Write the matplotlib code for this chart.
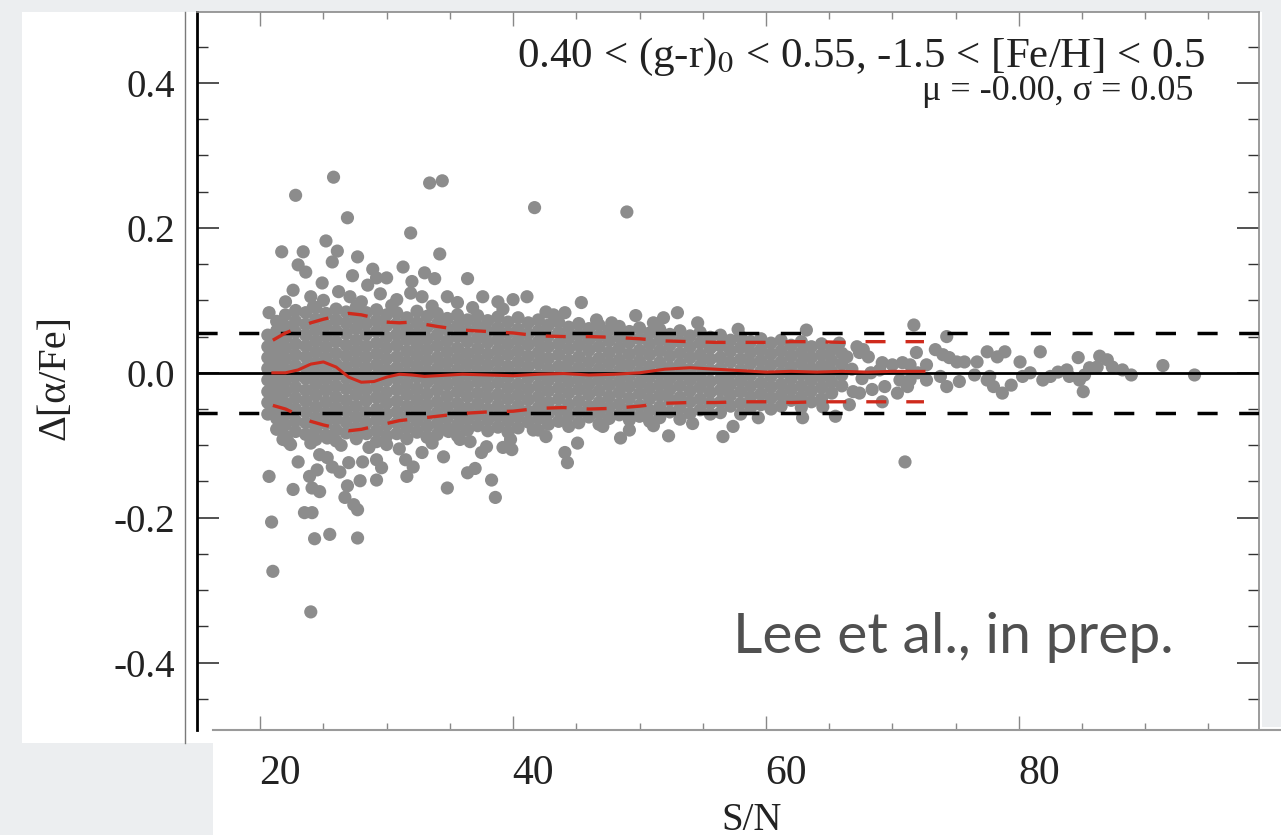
import matplotlib
matplotlib.use("Agg")
import matplotlib.pyplot as plt
import matplotlib.transforms as mtransforms
from matplotlib.patches import Rectangle
from matplotlib.lines import Line2D

# ---- datos ----
# nucleo denso de la nube: S/N -> lista de Delta[alpha/Fe]
core_low = {
    20.6: [0.052, 0.036, 0.021, 0.006, -0.010, -0.026, -0.041, -0.057],
    21.3: [0.071, 0.058, 0.043, 0.028, 0.013, -0.002, -0.017, -0.032, -0.048, -0.063, -0.078],
    22.0: [0.080, 0.064, 0.049, 0.034, 0.019, 0.004, -0.011, -0.026, -0.042, -0.057, -0.072, -0.088],
    22.8: [0.086, 0.071, 0.056, 0.040, 0.025, 0.010, -0.005, -0.020, -0.035, -0.050, -0.066, -0.081],
    23.6: [0.083, 0.067, 0.052, 0.037, 0.022, 0.007, -0.008, -0.024, -0.039, -0.054, -0.069, -0.085],
    24.4: [0.090, 0.074, 0.059, 0.044, 0.029, 0.014, -0.001, -0.016, -0.031, -0.047, -0.062, -0.077, -0.092],
    25.2: [0.082, 0.066, 0.051, 0.036, 0.021, 0.006, -0.009, -0.024, -0.040, -0.055, -0.070, -0.086],
    26.0: [0.088, 0.073, 0.058, 0.043, 0.027, 0.012, -0.003, -0.018, -0.033, -0.048, -0.064, -0.079, -0.094],
    26.8: [0.084, 0.069, 0.054, 0.038, 0.023, 0.008, -0.007, -0.022, -0.038, -0.053, -0.068, -0.083],
    27.6: [0.091, 0.076, 0.061, 0.045, 0.030, 0.015, 0.000, -0.015, -0.030, -0.046, -0.061, -0.076, -0.091],
    28.4: [0.083, 0.068, 0.053, 0.037, 0.022, 0.007, -0.008, -0.023, -0.038, -0.054, -0.069, -0.084],
    29.2: [0.087, 0.072, 0.057, 0.041, 0.026, 0.011, -0.004, -0.019, -0.034, -0.050, -0.065, -0.080, -0.095],
    30.0: [0.080, 0.065, 0.049, 0.034, 0.019, 0.004, -0.011, -0.027, -0.042, -0.057, -0.072, -0.087],
}
core_mid = {
    30.8: [0.083, 0.068, 0.053, 0.038, 0.022, 0.007, -0.008, -0.023, -0.039, -0.054, -0.069, -0.084],
    31.6: [0.076, 0.061, 0.046, 0.030, 0.015, 0.000, -0.015, -0.030, -0.046, -0.061, -0.076, -0.091],
    32.4: [0.085, 0.069, 0.054, 0.039, 0.024, 0.009, -0.006, -0.022, -0.037, -0.052, -0.067, -0.082],
    33.2: [0.078, 0.063, 0.047, 0.032, 0.017, 0.002, -0.013, -0.029, -0.044, -0.059, -0.074, -0.089],
    34.0: [0.082, 0.067, 0.052, 0.037, 0.021, 0.006, -0.009, -0.024, -0.040, -0.055, -0.070, -0.085],
    34.8: [0.075, 0.060, 0.044, 0.029, 0.014, -0.001, -0.016, -0.032, -0.047, -0.062, -0.077],
    35.6: [0.080, 0.065, 0.050, 0.034, 0.019, 0.004, -0.011, -0.026, -0.042, -0.057, -0.072, -0.087],
    36.4: [0.073, 0.058, 0.043, 0.027, 0.012, -0.003, -0.018, -0.033, -0.049, -0.064, -0.079],
    37.2: [0.079, 0.064, 0.048, 0.033, 0.018, 0.003, -0.012, -0.028, -0.043, -0.058, -0.073],
    38.0: [0.072, 0.057, 0.042, 0.026, 0.011, -0.004, -0.019, -0.034, -0.050, -0.065, -0.080],
    38.8: [0.077, 0.062, 0.046, 0.031, 0.016, 0.001, -0.014, -0.030, -0.045, -0.060, -0.075],
    39.6: [0.070, 0.055, 0.040, 0.025, 0.009, -0.006, -0.021, -0.036, -0.052, -0.067, -0.082],
    40.4: [0.076, 0.060, 0.045, 0.030, 0.015, 0.000, -0.016, -0.031, -0.046, -0.061, -0.076],
    41.2: [0.069, 0.054, 0.039, 0.023, 0.008, -0.007, -0.022, -0.037, -0.053, -0.068],
    42.0: [0.073, 0.058, 0.043, 0.028, 0.013, -0.003, -0.018, -0.033, -0.048, -0.063, -0.079],
}
core_high = {
    42.8: [0.066, 0.051, 0.036, 0.020, 0.005, -0.010, -0.025, -0.041, -0.056, -0.071],
    43.6: [0.070, 0.055, 0.040, 0.025, 0.009, -0.006, -0.021, -0.036, -0.052, -0.067],
    44.4: [0.063, 0.048, 0.033, 0.017, 0.002, -0.013, -0.028, -0.044, -0.059, -0.074],
    45.2: [0.068, 0.053, 0.038, 0.022, 0.007, -0.008, -0.023, -0.039, -0.054, -0.069],
    46.0: [0.061, 0.046, 0.031, 0.015, 0.000, -0.015, -0.030, -0.046, -0.061],
    46.8: [0.066, 0.051, 0.036, 0.020, 0.005, -0.010, -0.025, -0.041, -0.056, -0.071],
    47.6: [0.059, 0.044, 0.028, 0.013, -0.002, -0.017, -0.033, -0.048, -0.063],
    48.4: [0.064, 0.049, 0.034, 0.018, 0.003, -0.012, -0.027, -0.043, -0.058],
    49.2: [0.057, 0.042, 0.026, 0.011, -0.004, -0.019, -0.035, -0.050, -0.065],
    50.0: [0.062, 0.047, 0.031, 0.016, 0.001, -0.014, -0.029, -0.045, -0.060],
    50.8: [0.055, 0.040, 0.025, 0.009, -0.006, -0.021, -0.036, -0.052, -0.067],
    51.6: [0.060, 0.045, 0.030, 0.014, -0.001, -0.016, -0.031, -0.047, -0.062],
    52.4: [0.053, 0.038, 0.023, 0.007, -0.008, -0.023, -0.038, -0.054],
    53.2: [0.058, 0.043, 0.027, 0.012, -0.003, -0.018, -0.034, -0.049, -0.064],
    54.0: [0.051, 0.036, 0.021, 0.005, -0.010, -0.025, -0.040, -0.056],
    54.8: [0.056, 0.041, 0.025, 0.010, -0.005, -0.020, -0.036, -0.051],
    55.6: [0.049, 0.034, 0.019, 0.004, -0.012, -0.027, -0.042, -0.057],
}
core_top = {
    56.4: [0.052, 0.037, 0.021, 0.006, -0.009, -0.024, -0.040, -0.055],
    57.2: [0.045, 0.030, 0.015, -0.001, -0.016, -0.031, -0.046],
    58.0: [0.050, 0.035, 0.019, 0.004, -0.011, -0.026, -0.042, -0.057],
    58.8: [0.043, 0.028, 0.013, -0.003, -0.018, -0.033, -0.048],
    59.6: [0.047, 0.032, 0.017, 0.002, -0.014, -0.029, -0.044],
    60.4: [0.041, 0.026, 0.011, -0.005, -0.020, -0.035, -0.050],
    61.2: [0.045, 0.030, 0.015, 0.000, -0.016, -0.031, -0.046],
    62.0: [0.038, 0.023, 0.008, -0.008, -0.023, -0.038],
    62.8: [0.043, 0.028, 0.013, -0.002, -0.018, -0.033, -0.048],
    63.6: [0.036, 0.021, 0.006, -0.010, -0.025, -0.040],
    64.4: [0.040, 0.025, 0.010, -0.005, -0.020, -0.036],
    65.2: [0.032, 0.017, 0.002, -0.013, -0.028],
    66.0: [0.027, 0.012, -0.003, -0.018],
}

# puntos sueltos por encima del nucleo (S/N, Delta)
upper_pts = [(22.8, 0.245), (25.8, 0.270), (26.9, 0.214), (33.4, 0.262), (34.4, 0.265),
             (31.9, 0.193), (41.7, 0.228), (49.0, 0.222), (25.2, 0.182), (21.7, 0.167),
             (23.4, 0.167), (26.1, 0.168), (27.7, 0.160), (34.2, 0.164), (25.7, 0.153),
             (23.0, 0.149), (23.6, 0.139), (31.3, 0.146), (28.9, 0.143), (27.3, 0.134),
             (24.9, 0.124), (33.0, 0.138), (33.8, 0.130), (36.4, 0.130), (28.5, 0.121),
             (29.2, 0.131), (30.0, 0.131), (32.0, 0.126), (22.6, 0.114), (20.7, 0.083),
             (26.2, 0.112), (27.1, 0.105), (29.5, 0.109), (30.8, 0.101), (31.9, 0.110),
             (32.8, 0.105), (34.8, 0.105), (35.6, 0.097), (37.6, 0.105), (38.8, 0.098),
             (40.0, 0.101), (41.1, 0.105), (24.0, 0.105), (24.2, 0.091), (45.4, 0.097),
             (49.7, 0.079), (53.0, 0.083), (44.1, 0.083), (46.6, 0.073), (47.8, 0.069),
             (51.1, 0.069), (51.9, 0.076), (54.6, 0.069), (63.2, 0.059), (65.8, 0.041),
             (22.0, 0.098), (25.0, 0.100), (28.0, 0.098), (30.4, 0.093), (33.6, 0.092),
             (36.8, 0.090), (39.2, 0.088), (42.6, 0.084), (43.2, 0.080), (57.8, 0.060)]

# puntos sueltos por debajo del nucleo
lower_pts = [(20.7, -0.143), (20.9, -0.206), (21.0, -0.274), (24.0, -0.330), (22.6, -0.161),
             (23.0, -0.123), (22.2, -0.095), (21.8, -0.092), (23.5, -0.193), (24.1, -0.193),
             (24.3, -0.229), (25.5, -0.223), (27.7, -0.228), (24.1, -0.159), (24.7, -0.164),
             (23.9, -0.143), (24.5, -0.134), (26.7, -0.172), (27.4, -0.182), (27.7, -0.189),
             (26.9, -0.156), (27.9, -0.149), (29.2, -0.148), (24.7, -0.113), (25.3, -0.117),
             (25.7, -0.130), (26.3, -0.137), (27.0, -0.124), (28.1, -0.123), (29.2, -0.120),
             (29.6, -0.131), (31.5, -0.120), (32.1, -0.130), (31.6, -0.143), (34.5, -0.116),
             (34.8, -0.159), (36.4, -0.138), (37.0, -0.132), (38.3, -0.148), (38.6, -0.172),
             (37.5, -0.110), (37.9, -0.102), (39.9, -0.106), (44.1, -0.110), (44.3, -0.124),
             (45.1, -0.097), (48.5, -0.090), (51.1, -0.073), (52.3, -0.087), (56.6, -0.088),
             (57.4, -0.074), (62.9, -0.062), (65.5, -0.060), (25.3, -0.090), (24.0, -0.097),
             (30.0, -0.099), (33.6, -0.097), (34.9, -0.081), (35.8, -0.092), (36.6, -0.095),
             (39.2, -0.103), (39.8, -0.092), (41.6, -0.079), (47.1, -0.074), (49.2, -0.079),
             (64.5, -0.047), (22.4, -0.099), (26.4, -0.100), (28.6, -0.103), (31.0, -0.105),
             (32.8, -0.110), (42.6, -0.088), (54.2, -0.070), (59.4, -0.062)]

# cola de alto S/N
tail_pts = [(71.7, 0.066), (74.3, 0.050), (71.0, -0.123), (73.4, 0.032), (74.0, 0.025),
            (71.9, 0.028), (74.5, 0.021), (75.1, 0.015), (75.7, 0.015), (76.7, 0.015),
            (77.5, 0.029), (78.3, 0.022), (78.9, 0.029), (80.1, 0.015), (81.7, 0.029),
            (84.7, 0.021), (86.4, 0.023), (87.0, 0.018), (85.6, 0.007), (86.2, 0.008),
            (87.4, 0.008), (88.2, 0.004), (88.9, -0.003), (91.4, 0.010), (93.9, -0.003),
            (85.1, -0.026), (78.7, -0.028), (79.4, -0.017), (78.0, -0.019), (77.5, -0.010),
            (74.3, -0.019), (75.3, -0.012), (76.5, -0.003), (77.7, -0.005), (80.9, 0.000),
            (81.9, -0.010), (82.5, -0.005), (83.1, 0.001), (83.8, 0.004), (84.0, -0.005),
            (84.8, -0.010), (85.2, -0.003), (80.3, -0.005), (73.8, -0.005), (72.7, -0.010),
            (72.7, 0.011), (71.4, -0.010), (71.2, -0.019), (70.6, -0.010), (69.4, -0.019),
            (68.4, -0.023), (67.4, -0.028), (66.9, -0.026), (70.4, -0.028), (66.6, -0.044),
            (67.7, 0.032), (67.2, 0.036), (68.1, 0.022), (69.2, 0.014), (70.0, 0.011),
            (70.8, 0.014), (71.4, 0.011), (67.4, 0.028), (66.4, 0.022), (69.2, -0.040),
            (68.3, 0.000), (69.0, 0.004), (66.8, 0.005), (67.6, -0.008), (72.0, 0.000)]

# media movil y +-sigma (rojo)
sn_run = [21.0, 22.0, 23.0, 24.0, 25.0, 26.0, 27.0, 28.0, 29.0, 30.0, 31.0, 32.0, 33.0,
          34.0, 36.0, 38.0, 40.0, 42.0, 44.0, 46.0, 48.0, 50.0, 52.0, 54.0, 56.0, 58.0,
          60.0, 62.0, 64.0, 66.0, 68.0, 70.0, 72.5]
run_mean = [0.000, 0.000, 0.004, 0.012, 0.015, 0.008, -0.006, -0.013, -0.012, -0.006,
            -0.002, -0.003, -0.005, -0.004, -0.002, -0.003, -0.004, -0.002, -0.001, -0.003,
            -0.002, 0.000, 0.005, 0.007, 0.005, 0.003, 0.001, 0.002, 0.001, 0.002, 0.001,
            0.002, 0.002]
run_up = [0.045, 0.055, 0.062, 0.069, 0.074, 0.078, 0.082, 0.080, 0.076, 0.070, 0.069,
          0.070, 0.067, 0.064, 0.059, 0.057, 0.055, 0.051, 0.050, 0.050, 0.049, 0.047,
          0.044, 0.043, 0.042, 0.042, 0.042, 0.043, 0.043, 0.042, 0.043, 0.043, 0.043]
run_lo = [-0.045, -0.050, -0.058, -0.067, -0.072, -0.076, -0.080, -0.078, -0.074, -0.070,
          -0.066, -0.064, -0.062, -0.060, -0.056, -0.054, -0.053, -0.049, -0.048, -0.050,
          -0.049, -0.046, -0.042, -0.041, -0.041, -0.040, -0.040, -0.041, -0.040, -0.040,
          -0.040, -0.040, -0.040]

sigma_line = 0.055
x_ticks = [20, 40, 60, 80]
y_ticks = [-0.4, -0.2, 0.0, 0.2, 0.4]

# ---- armado de los puntos ----
sn = []
da = []
for bloque in (core_low, core_mid, core_high, core_top):
    for s, vals in bloque.items():
        for v in vals:
            sn.append(s)
            da.append(v)
for lista in (upper_pts, lower_pts, tail_pts):
    for s, v in lista:
        sn.append(s)
        da.append(v)

W, H = 1281, 835
plt.rcParams['axes.unicode_minus'] = False
plt.rcParams['mathtext.fontset'] = 'stix'
serif = ['Liberation Serif', 'DejaVu Serif']

fig = plt.figure(figsize=(W / 100, H / 100), dpi=100, facecolor='#eceef0')

# paneles blancos de la diapositiva (detras de todo)
fig.patches.append(Rectangle((22 / W, (H - 743) / H), (1262 - 22) / W, (743 - 12) / H,
                             transform=fig.transFigure, facecolor='white', edgecolor='none', zorder=-5))
fig.patches.append(Rectangle((213 / W, 0), (W - 213) / W, (H - 727) / H,
                             transform=fig.transFigure, facecolor='white', edgecolor='none', zorder=-5))

ax = fig.add_axes([197 / W, (H - 730) / H, (1259 - 197) / W, (730 - 12) / H])
ax.set_facecolor('white')
ax.scatter(sn, da, s=90, color='#8c8c8c', edgecolors='none', zorder=2)

ax.axhline(0, color='black', lw=2, zorder=3)
for yy in (sigma_line, -sigma_line):
    ax.axhline(yy, color='black', lw=2.5, dashes=(5.8, 6.2), zorder=3)

ax.plot(sn_run, run_mean, color='#cf2a1c', lw=2.2, zorder=4)
ax.plot(sn_run, run_up, color='#cf2a1c', lw=2.4, dashes=(6, 6), zorder=4)
ax.plot(sn_run, run_lo, color='#cf2a1c', lw=2.4, dashes=(6, 6), zorder=4)

ax.set_xlim(15, 99)
ax.set_ylim(-0.493, 0.498)

ax.set_xticks(x_ticks)
ax.set_xticks([v for v in range(20, 99, 5)], minor=True)
ax.set_yticks(y_ticks)
ax.set_yticks([v / 100 for v in range(-45, 50, 5)], minor=True)
ax.set_yticklabels(['%.1f' % v for v in y_ticks], fontfamily=serif, fontsize=28, color='#222222')
ax.set_xticklabels([])

ax.tick_params(axis='y', which='major', direction='in', length=16, width=1.2,
               left=True, right=True, pad=16, colors='#333333', labelcolor='#222222')
ax.tick_params(axis='y', which='minor', direction='in', length=8, width=1.0,
               left=True, right=True, colors='#333333')
ax.tick_params(axis='x', which='major', direction='in', length=10, width=1.0,
               top=True, bottom=True, colors='#888888')
ax.tick_params(axis='x', which='minor', direction='in', length=5, width=1.0,
               top=True, bottom=True, colors='#888888')

for lado in ('top', 'right'):
    ax.spines[lado].set_color('#8a8a8a')
    ax.spines[lado].set_linewidth(1.2)
ax.spines['bottom'].set_visible(False)
ax.spines['left'].set_color('black')
ax.spines['left'].set_linewidth(2)

# linea inferior del recuadro de etiquetas y borde izquierdo duplicado
fig.lines.append(Line2D([213 / W, 1.0], [(H - 730) / H] * 2, transform=fig.transFigure,
                        color='#9a9a9a', lw=1.5))
fig.lines.append(Line2D([185 / W] * 2, [(H - 743) / H, (H - 12) / H], transform=fig.transFigure,
                        color='#7a7a7a', lw=1.0))

# etiquetas del eje x (desplazadas como en la imagen original)
desplaza = mtransforms.ScaledTranslation(20 / 100, -24 / 100, fig.dpi_scale_trans)
for v in x_ticks:
    ax.text(v, 0, str(v), transform=ax.get_xaxis_transform() + desplaza, ha='center', va='top',
            fontsize=30, fontfamily=serif, color='#222222')

fig.text(752 / W, (H - 802) / H, 'S/N', ha='center', va='top', fontsize=28,
         fontfamily=serif, color='#222222')
fig.text(55 / W, (H - 378) / H, 'Δ[α/Fe]', rotation=90, ha='center', va='center',
         fontsize=29, fontfamily=serif, color='#222222')

fig.text(1205 / W, (H - 67) / H, '0.40 < (g-r)$_0$ < 0.55, -1.5 < [Fe/H] < 0.5',
         ha='right', va='baseline', fontsize=31, fontfamily=serif, color='#222222')
fig.text(1193 / W, (H - 100) / H, 'μ = -0.00, σ = 0.05', ha='right', va='baseline',
         fontsize=26, fontfamily=serif, color='#222222')

fig.text(733 / W, (H - 653) / H, 'Lee et al., in prep.', ha='left', va='baseline',
         fontsize=41, fontfamily='Lato', color='#505050')

fig.savefig('out.png', dpi=100, facecolor=fig.get_facecolor())
